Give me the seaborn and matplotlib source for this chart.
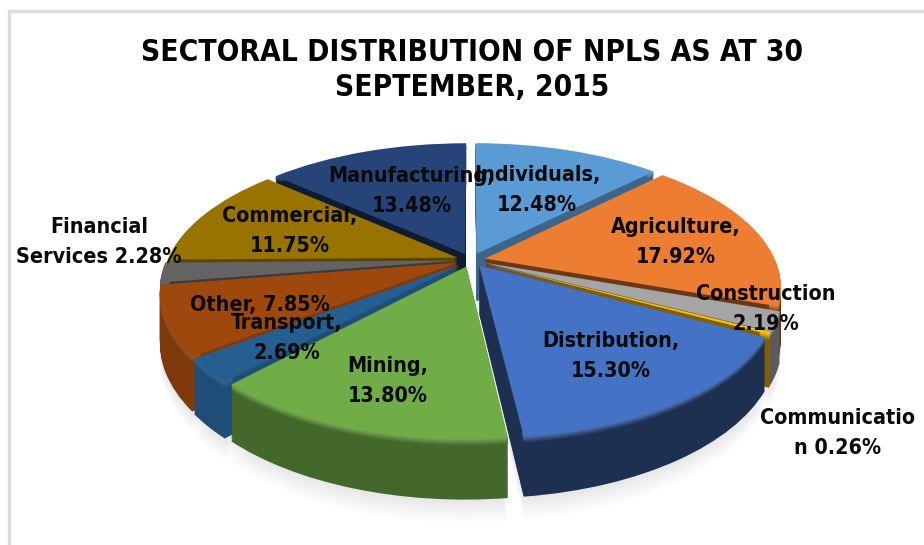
import numpy as np
import matplotlib
matplotlib.use("Agg")
import matplotlib.pyplot as plt
from matplotlib.transforms import Transform
import seaborn as sns

sns.set_theme(style="white")
plt.rcParams['font.family'] = ['DejaVu Sans']

# Data
sectors = ['Individuals', 'Agriculture', 'Construction', 'Communication', 'Distribution', 'Mining',
           'Transport', 'Other', 'Financial Services', 'Commercial', 'Manufacturing']
shares = [12.48, 17.92, 2.19, 0.26, 15.30, 13.80, 2.69, 7.85, 2.28, 11.75, 13.48]
slice_colors = ['#5b9bd5', '#ed7d31', '#a5a5a5', '#ffc000', '#4472c4', '#70ad47',
                '#255e91', '#9e480e', '#636363', '#997300', '#264478']
# how much darker the wall of each slice looks
side_shade = [0.65, 0.45, 0.55, 0.5, 0.42, 0.6, 0.82, 0.8, 0.6, 0.6, 0.4]
label_texts = ['Individuals,\n12.48%', 'Agriculture,\n17.92%', 'Construction\n2.19%',
               'Communicatio\nn 0.26%', 'Distribution,\n15.30%', 'Mining,\n13.80%',
               'Transport,\n2.69%', 'Other, 7.85%', 'Financial\nServices 2.28%',
               'Commercial,\n11.75%', 'Manufacturing,\n13.48%']
title = 'SECTORAL DISTRIBUTION OF NPLS AS AT 30\nSEPTEMBER, 2015'

# label centres in pixels
label_x = [537, 676, 766, 838, 611, 388, 287, 260, 99, 290, 412]
label_y = [190, 242, 309, 433, 356, 381, 338, 305, 242, 231, 191]

# pie geometry in pixels
CX, CY = 471, 260
RX, RY, PERSP = 290, 135, 0.2
DEPTH = 48


class Tilt(Transform):
    # lays the flat pie on a table seen in perspective, drop pushes it down
    input_dims = 2
    output_dims = 2

    def __init__(self, drop=0):
        super().__init__()
        self.drop = drop

    def transform_non_affine(self, values):
        values = np.asarray(values)
        x, y = values[:, 0], values[:, 1]
        w = 1 + PERSP * y
        return np.column_stack([CX + RX * x / w, CY + (self.drop - RY * y) / w])


fig = plt.figure(figsize=(9.24, 5.45), dpi=100)
ax = fig.add_axes([0, 0, 1, 1])


def draw_layer(colors, drop, alpha=None, width=None):
    wedges, _ = ax.pie(shares, colors=colors, explode=[0.05] * len(shares), startangle=90,
                       counterclock=False, radius=1, wedgeprops=dict(linewidth=0, alpha=alpha, width=width))
    for w in wedges:
        w.set_transform(Tilt(drop) + ax.transData)


base = np.array(sns.color_palette(slice_colors))
side = base * np.array(side_shade)[:, None]
rim = np.clip(base * 0.85 + 0.15 * 0.7, 0, 1)

# soft shadow under the pie
for d in np.arange(DEPTH + 18, 12, -1.5):
    draw_layer(['#808080'] * len(shares), d, alpha=0.012)

# side walls, bottom to top
for d in np.arange(DEPTH, 0, -1.0):
    draw_layer([tuple(c) for c in side], d)
# lighter bevel only along the outer arc
for d in [5, 4, 3, 2, 1]:
    mix = d / 6
    draw_layer([tuple(c) for c in rim * (1 - mix) + side * mix], d, width=0.03)
draw_layer([tuple(c) for c in base], 0)

ax.set_aspect('auto')
ax.set_xlim(0, 924)
ax.set_ylim(545, 0)
ax.set_xticks([])
ax.set_yticks([])

# frame of the chart area
ax.plot([9, 9, 924], [545, 11, 11], color='#dcdcdc', lw=2.5, solid_joinstyle='miter')

for txt, x, y in zip(label_texts, label_x, label_y):
    ax.text(x, y, txt, ha='center', va='center', fontsize=15.4, fontweight='bold', stretch='condensed',
            color='#0a0a0a', linespacing=1.68)

ax.text(472, 70, title, ha='center', va='center', fontsize=21.4, fontweight='bold', stretch='condensed',
        color='black', linespacing=1.3)

fig.savefig('out.png', dpi=100)
